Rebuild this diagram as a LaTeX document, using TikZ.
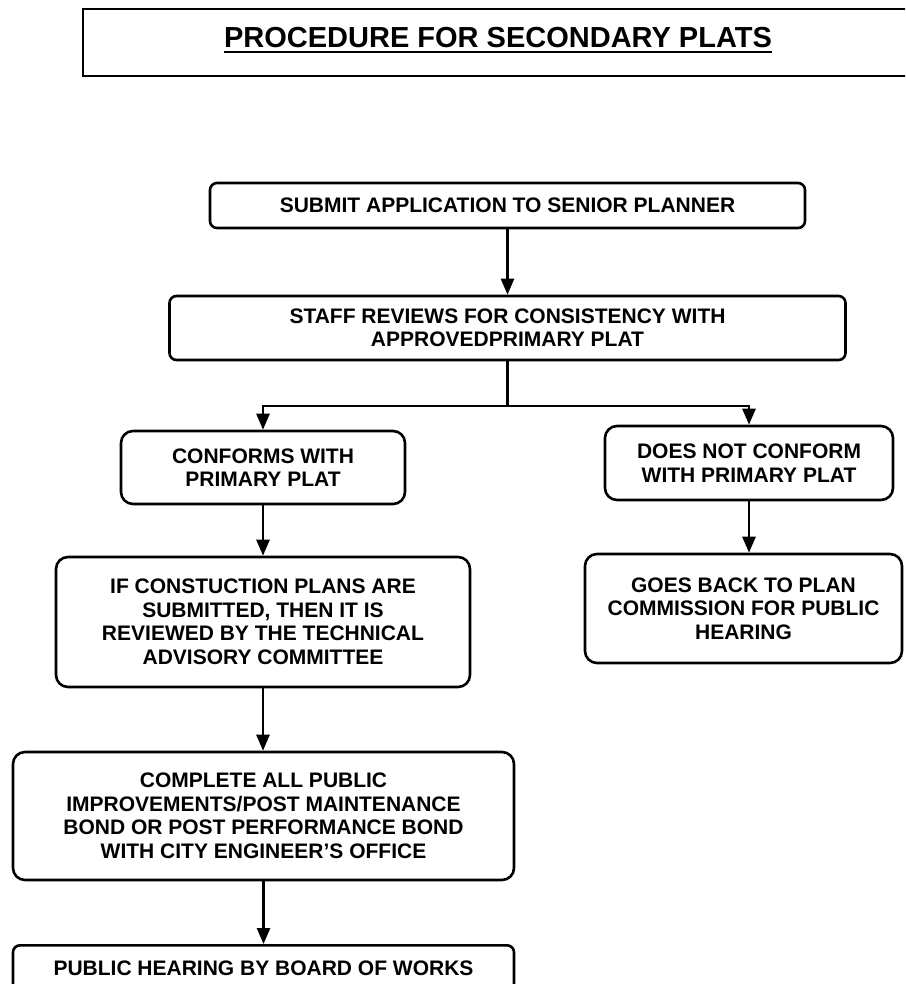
\documentclass[tikz,border=0pt]{standalone}
\usepackage{fontspec}
\setmainfont{Liberation Sans}
\usetikzlibrary{arrows.meta,calc}
\begin{document}
\begin{tikzpicture}[x=1pt,y=-1pt,
  box/.style={draw,line width=2.6pt,rounded corners=12pt,inner sep=0pt,align=center,
    font=\fontsize{21}{23.5}\selectfont\bfseries},
  smallbox/.style={box,rounded corners=7pt},
  arr/.style={line width=2.6pt,-{Triangle[length=16pt,width=13pt]}},
  conn/.style={line width=2.6pt}]
\useasboundingbox (0,0) rectangle (905,984);
\clip (0,0) rectangle (905,984);
% title frame
\coordinate (tfr) at (910,9);
\coordinate (tfl) at (83,9);
\coordinate (tbl) at (83,76);
\coordinate (tbr) at (910,76);
\draw[line width=2.8pt] (tfr) -- (tfl) -- (tbl) -- (tbr);
\node[anchor=base,inner sep=0pt,font=\fontsize{29}{32}\selectfont\bfseries] (title) at (498,48) {PROCEDURE FOR SECONDARY PLATS};
\draw[line width=2.6pt] ([yshift=-4pt]title.base west) -- ([yshift=-4pt]title.base east);
% boxes
\node[smallbox,minimum width=595pt,minimum height=45pt] (b1) at (507.5,205.5) {SUBMIT APPLICATION TO SENIOR PLANNER};
\node[smallbox,minimum width=676pt,minimum height=64pt] (b2) at (507.5,328) {STAFF REVIEWS FOR CONSISTENCY WITH\\APPROVEDPRIMARY PLAT};
\node[box,minimum width=284pt,minimum height=73pt] (b3l) at (263,467.5) {CONFORMS WITH\\PRIMARY PLAT};
\node[box,minimum width=288pt,minimum height=74pt] (b3r) at (749,463) {DOES NOT CONFORM\\WITH PRIMARY PLAT};
\node[box,minimum width=414pt,minimum height=130pt] (b4l) at (263,622) {IF CONSTUCTION PLANS ARE\\SUBMITTED, THEN IT IS\\REVIEWED BY THE TECHNICAL\\ADVISORY COMMITTEE};
\node[box,minimum width=317pt,minimum height=109pt] (b4r) at (743.5,608.5) {GOES BACK TO PLAN\\COMMISSION FOR PUBLIC\\HEARING};
\node[box,minimum width=501pt,minimum height=128pt] (b5) at (263.5,816) {COMPLETE ALL PUBLIC\\IMPROVEMENTS/POST MAINTENANCE\\BOND OR POST PERFORMANCE BOND\\WITH CITY ENGINEER'S OFFICE};
\node[smallbox,minimum width=501pt,minimum height=46pt,anchor=north] (b6) at (263.5,944) {PUBLIC HEARING BY BOARD OF WORKS};
% connectors
\draw[arr] (b1.south) -- (b1.south |- b2.north);
\coordinate (split) at (507.5,406);
\draw[conn] (b2.south) -- (split);
\draw[arr] (split) -| (b3l.north);
\draw[arr] (split) -| (b3r.north);
\draw[arr] (b3l.south) -- (b3l.south |- b4l.north);
\draw[arr] (b3r.south) -- (b3r.south |- b4r.north);
\draw[arr] (b4l.south) -- (b4l.south |- b5.north);
\draw[arr] (b5.south) -- (b5.south |- b6.north);
\end{tikzpicture}
\end{document}
